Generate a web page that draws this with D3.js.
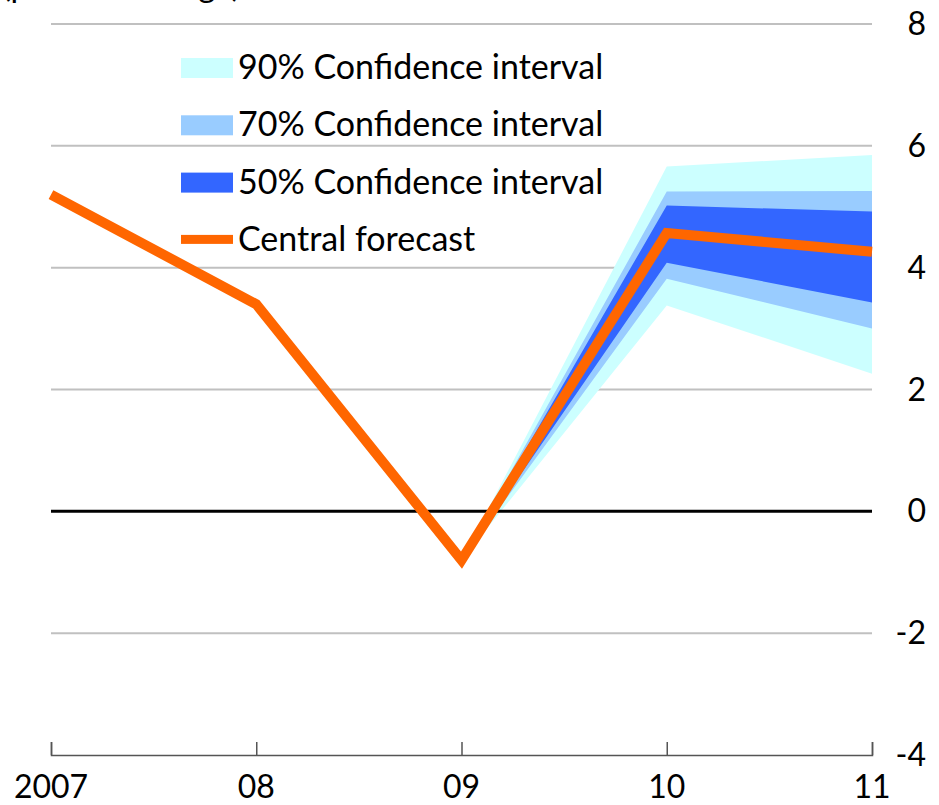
<!DOCTYPE html>
<html>
<head>
<meta charset="utf-8">
<script src="https://cdnjs.cloudflare.com/ajax/libs/d3/7.8.5/d3.min.js"></script>
<style>
  body { margin: 0; background: #fff; }
  svg { display: block; font-family: Lato, "Open Sans", sans-serif; }
</style>
</head>
<body>
<svg id="chart"></svg>
<script>
// chart size
var width = 939,
    height = 805;

// data
var years = [2007, 2008, 2009, 2010, 2011];
var yearLabels = ["2007", "08", "09", "10", "11"];
var central = [5.2, 3.4, -0.8, 4.57, 4.26];

// fan bands start at 2009
var bandYears = [2009, 2010, 2011];
var lo90 = [-0.8, 3.38, 2.26], hi90 = [-0.8, 5.66, 5.85];
var lo70 = [-0.8, 3.82, 3.0],  hi70 = [-0.8, 5.25, 5.26];
var lo50 = [-0.8, 4.08, 3.43], hi50 = [-0.8, 5.02, 4.92];

var yTicks = [-4, -2, 0, 2, 4, 6, 8];
var legendLabels = ["90% Confidence interval", "70% Confidence interval",
                    "50% Confidence interval", "Central forecast"];

var svg = d3.select("#chart")
    .attr("width", width)
    .attr("height", height);

var x = d3.scaleLinear().domain([2007, 2011]).range([51, 872]);
var y = d3.scaleLinear().domain([-4, 8]).range([755, 24]);

// unit label, cut off at the top like the original
svg.append("text")
    .attr("x", 2)
    .attr("y", -3)
    .attr("font-size", 33)
    .text("(percent change)");

// grid lines
svg.append("g")
  .selectAll("line")
    .data(yTicks.filter(function(d) { return d !== 0 && d !== -4; }))
  .enter().append("line")
    .attr("x1", x(2007)).attr("x2", x(2011))
    .attr("y1", function(d) { return y(d); })
    .attr("y2", function(d) { return y(d); })
    .attr("stroke", "#c0c0c0")
    .attr("stroke-width", 2);

// fan bands
var bands = [
  { lo: lo90, hi: hi90, color: "#ccffff" },
  { lo: lo70, hi: hi70, color: "#99ccff" },
  { lo: lo50, hi: hi50, color: "#3366ff" }
];

var area = function(b) {
  return d3.area()
      .x(function(d, i) { return x(bandYears[i]); })
      .y0(function(d, i) { return y(b.lo[i]); })
      .y1(function(d, i) { return y(b.hi[i]); })(bandYears);
};

svg.append("g")
  .selectAll("path")
    .data(bands)
  .enter().append("path")
    .attr("d", area)
    .attr("fill", function(d) { return d.color; });

// zero line
svg.append("line")
    .attr("x1", x(2007)).attr("x2", x(2011))
    .attr("y1", y(0)).attr("y2", y(0))
    .attr("stroke", "#000")
    .attr("stroke-width", 3);

// central forecast
var line = d3.line()
    .x(function(d, i) { return x(years[i]); })
    .y(function(d) { return y(d); });

svg.append("path")
    .datum(central)
    .attr("d", line)
    .attr("fill", "none")
    .attr("stroke", "#ff6600")
    .attr("stroke-width", 10);

// x axis at the bottom, ticks pointing up
var xAxis = svg.append("g")
    .attr("transform", "translate(0," + y(-4) + ")")
    .call(d3.axisTop(x)
        .tickValues(years)
        .tickSize(13)
        .tickFormat(""));
xAxis.select(".domain").attr("stroke", "#555").attr("stroke-width", 1.5);
xAxis.selectAll(".tick line").attr("stroke", "#555").attr("stroke-width", 1.5);

svg.append("g")
  .selectAll("text")
    .data(years)
  .enter().append("text")
    .attr("x", function(d) { return x(d); })
    .attr("y", 798)
    .attr("text-anchor", "middle")
    .attr("font-size", 32)
    .text(function(d, i) { return yearLabels[i]; });

// y labels on the right
svg.append("g")
  .selectAll("text")
    .data(yTicks)
  .enter().append("text")
    .attr("x", 926)
    .attr("y", function(d) { return y(d) + 11; })
    .attr("text-anchor", "end")
    .attr("font-size", 32)
    .text(function(d) { return d; });

// legend
var legendColors = ["#ccffff", "#99ccff", "#3366ff", "#ff6600"];
var legend = svg.append("g")
  .selectAll("g")
    .data(legendLabels)
  .enter().append("g")
    .attr("transform", function(d, i) { return "translate(181," + (68 + i * 57.3) + ")"; });

legend.append("rect")
    .attr("x", 0)
    .attr("y", function(d, i) { return i === 3 ? -5 : -10; })
    .attr("width", 52)
    .attr("height", function(d, i) { return i === 3 ? 9 : 20; })
    .attr("fill", function(d, i) { return legendColors[i]; });

legend.append("text")
    .attr("x", 57)
    .attr("y", 11)
    .attr("font-size", 34)
    .text(function(d) { return d; });
</script>
</body>
</html>
